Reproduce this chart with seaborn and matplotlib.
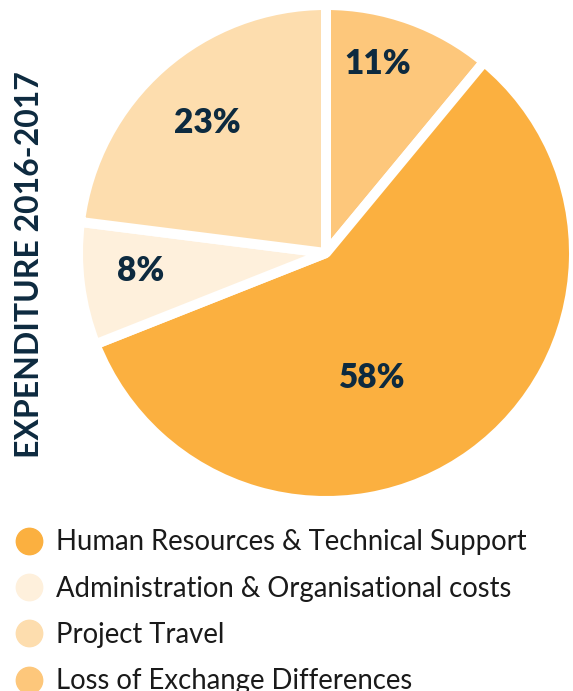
# Expenditure 2016-2017 pie chart
import numpy as np
import matplotlib.pyplot as plt
import seaborn as sns
from matplotlib.lines import Line2D

# ---- data ----
categories = ["Human Resources & Technical Support",
              "Administration & Organisational costs",
              "Project Travel",
              "Loss of Exchange Differences"]
shares = [58, 8, 23, 11]
colors = ["#FBB040", "#FEF0DC", "#FDDDAE", "#FDC77B"]

# pie order clockwise from top
pie_order = [3, 0, 1, 2]

sns.set_theme(style="white")
plt.rcParams['font.family'] = ['Lato', 'DejaVu Sans']

navy = "#0D2A3F"

fig = plt.figure(figsize=(5.73, 6.91), dpi=100)
# pie axes: centre ~ (326, 253) px, radius ~ 248 px
ax = fig.add_axes([78 / 573, 1 - 501 / 691, 496 / 573, 496 / 691])

vals = [shares[i] for i in pie_order]
cols = [colors[i] for i in pie_order]
wedges, texts = ax.pie(vals, colors=cols, startangle=90, counterclock=False,
                       radius=1.0,
                       wedgeprops=dict(edgecolor="white", linewidth=7.2,
                                       joinstyle="bevel"))

# percentage labels (radius, angle nudge in degrees)
label_r = [0.79, 0.535, 0.75, 0.71]
label_shift = [4.4, -15.8, -1.5, 1.0]
start = 90
for v, r, s in zip(vals, label_r, label_shift):
    mid = np.deg2rad(start - v * 3.6 / 2 + s)
    start -= v * 3.6
    ax.text(r * np.cos(mid), r * np.sin(mid), f"{v}%", ha="center", va="center",
            fontsize=24, fontweight="heavy", color=navy)
ax.set_xlim(-1, 1)
ax.set_ylim(-1, 1)
ax.set_aspect("equal")

# side title
fig.text(30 / 573, 1 - 265 / 691, "EXPENDITURE 2016-2017", rotation=90,
         ha="center", va="center", fontsize=23, fontweight="bold", color=navy)

# legend
handles = [Line2D([0], [0], marker="o", linestyle="", markersize=19,
                  markerfacecolor=c, markeredgecolor=c) for c in colors]
fig.legend(handles, categories, loc="upper left",
           bbox_to_anchor=(-7 / 573, 1 - 510 / 691), frameon=False,
           fontsize=19.8, labelspacing=0.74, handletextpad=0.38,
           labelcolor="#1a1a1a", handlelength=1.2, borderpad=0.2)

fig.savefig("out.png", dpi=100)
